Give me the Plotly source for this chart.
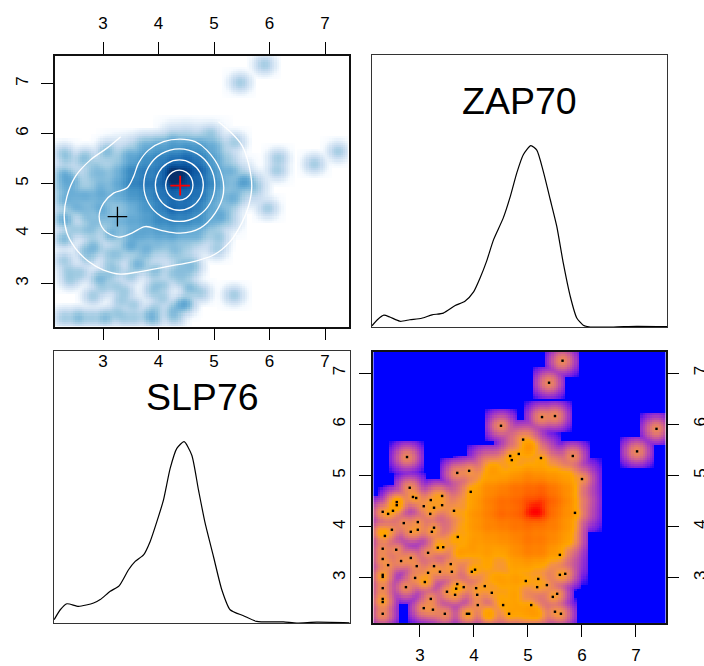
import numpy as np
import plotly.graph_objects as go

W, H = 704, 666
# outlying cytometry events (low density, drawn as dots)
zap70 = [5.64,5.39,5.26,5.50,4.50,7.38,7.02,2.76,4.91,4.67,4.70,4.83,5.24,5.83,6.00,3.69,3.91,2.81,3.94,2.87,2.93,3.41,3.20,2.57,2.57,3.07,3.26,3.41,2.31,2.41,2.50,3.63,3.19,5.87,2.70,2.96,3.26,2.48,2.96,2.83,3.22,2.35,3.70,2.31,2.56,3.33,3.43,3.15,5.59,2.31,2.83,2.65,2.41,2.94,3.26,3.57,4.02,3.96,3.15,3.37,3.59,2.31,2.31,2.91,5.59,5.69,4.96,5.19,3.09,3.69,4.20,2.74,3.81,4.04,3.67,5.17,5.35,2.31,3.50,4.33,4.06,3.65,5.54,5.46,3.20,2.31,2.31,4.07,4.54,5.06,3.07,3.24,5.50,5.61,2.31,3.46,3.87,3.91,4.65]
slp76 = [7.24,6.81,6.14,6.16,5.97,5.91,5.47,5.36,5.70,5.38,5.30,5.42,5.34,5.38,4.93,5.05,5.09,4.76,4.68,4.58,4.56,4.60,4.52,4.48,4.42,4.40,4.37,4.42,4.29,4.25,4.31,4.31,4.25,4.27,4.07,4.09,3.98,3.94,3.94,3.90,3.90,3.82,3.80,3.57,3.55,3.59,3.60,3.49,3.45,3.37,3.39,3.33,3.25,3.23,3.23,3.27,3.16,3.12,3.10,3.12,3.12,3.06,3.02,3.00,3.06,3.08,2.94,2.98,2.92,2.88,2.84,2.82,2.82,2.80,2.79,2.82,2.86,2.80,2.73,2.71,2.67,2.67,2.69,2.63,2.59,2.59,2.53,2.47,2.47,2.47,2.41,2.38,2.34,2.30,2.30,2.30,2.30,2.30,2.30]
# events hidden under the dense region (not drawn as dots)
hidden_zap = [2.32,2.28,4.27,4.30,4.25,5.04,5.06,5.02,5.00,4.36,4.34,5.10,4.90,5.20,4.70,4.50,4.55,4.75,4.80,4.40,3.75,3.60,3.95,2.62,2.55,3.30,3.35,3.10,4.85,5.00,5.15]
hidden_slp = [3.88,3.92,2.31,2.28,2.33,5.57,5.60,5.52,5.48,5.11,5.15,2.30,2.28,2.29,2.32,2.60,2.90,2.65,2.95,3.00,3.50,3.75,3.60,4.50,4.46,4.62,3.70,2.95,2.42,2.38,2.34]
# binned event counts of the dense core
core_zap = [3.5,3.75,4.0,4.25,4.5,4.75,5.0,5.25,5.5,5.75,6.0]
core_slp = [5.75,5.5,5.25,5.0,4.75,4.5,4.25,4.0,3.75,3.5,3.25,3.0,2.75,2.5,2.25]
core_counts = [
 [0,0,0,0,0,0.4,0.7,0,0,0,0],
 [0,0,0,0,0,0.5,1.0,0.5,0,0,0],
 [0,0,0,1.0,1.4,1.2,1.8,2.0,1.0,0.2,0],
 [0,0,0.7,2.4,2.6,4.0,6.5,5.0,4.0,3.0,0.2],
 [0,0.3,1.8,6.0,7.5,11,13,15,9.0,5.0,0.3],
 [0.4,1.2,3.0,7.5,12,13,20,24,13,5.5,0.6],
 [0.4,1.4,4.5,7.5,14,13,22,24,10,4.5,0.4],
 [0.3,1.8,4.0,7.0,7.5,10,11,9.0,8.0,4.0,0],
 [0.5,1.2,3.5,4.2,5.0,6.5,10,9.0,6.0,3.0,0],
 [0.2,2.6,2.6,3.5,2.4,5.0,8.0,7.5,3.0,0.5,0],
 [0.2,0.5,1.2,2.6,1.2,2.9,3.1,2.2,0.9,0.2,0],
 [0,0,0.2,1.4,2.2,2.4,1.2,0.7,0.4,0,0],
 [0,0,0,0.4,1.4,2.2,0.7,0.4,0,0,0],
 [0,0,0,0,1.0,2.2,1.0,0.4,0,0,0],
 [0,0,0,0.4,0.5,0.6,1.0,0.5,0,0,0],
]
core_peak = (5.13, 4.31, 18)
# density curves
zap_x = [2.11,2.21,2.33,2.44,2.63,2.81,3.03,3.22,3.43,3.65,3.83,3.99,4.11,4.23,4.36,4.54,4.67,4.79,4.91,5.05,5.16,5.28,5.41,5.53,5.65,5.78,5.90,6.02,6.15,6.58,7.01,7.57]
zap_d = [.004,.024,.039,.033,.019,.024,.029,.040,.046,.071,.085,.116,.162,.217,.289,.361,.432,.510,.570,.600,.585,.515,.421,.333,.212,.101,.030,.006,.000,.000,.002,.001]
slp_x = [2.12,2.23,2.35,2.56,2.83,2.95,3.13,3.29,3.46,3.58,3.73,3.85,3.97,4.09,4.21,4.33,4.46,4.60,4.72,4.84,4.99,5.14,5.29,5.53,5.77,6.25,6.49,6.85,7.44]
slp_d = [.013,.051,.074,.064,.077,.090,.122,.143,.205,.237,.262,.314,.390,.474,.595,.672,.698,.646,.512,.384,.256,.128,.051,.028,.006,.004,.000,.003,.001]
# gate contours, x = SLP76, y = ZAP70
c1_x = [3.32,3.07,2.77,2.50,2.35,2.30,2.35,2.50,2.74,3.01,3.31,3.67,4.15,4.63,4.99,5.29,5.50,5.62,5.68,5.62,5.50,5.29,5.08]
c1_y = [5.94,5.71,5.47,5.14,4.74,4.37,4.01,3.71,3.44,3.27,3.19,3.24,3.34,3.44,3.57,3.84,4.21,4.54,4.94,5.41,5.77,6.04,6.24]
c2_x = [4.39,4.09,3.82,3.64,3.55,3.43,3.19,3.01,2.93,3.02,3.28,3.52,3.76,4.03,4.39,4.75,5.02,5.17,5.11,4.87,4.66,4.39]
c2_y = [5.89,5.84,5.67,5.41,5.14,4.91,4.81,4.61,4.34,4.07,3.93,4.01,4.14,4.07,4.01,4.11,4.41,4.81,5.27,5.67,5.84,5.89]
c3_x = [5.015,4.929,4.695,4.375,4.055,3.821,3.735,3.821,4.055,4.375,4.695,4.929,5.015]
c3_y = [4.97,5.334,5.60,5.697,5.60,5.334,4.97,4.606,4.34,4.243,4.34,4.606,4.97]
c4_x = [4.807,4.749,4.591,4.375,4.159,4.001,3.943,4.001,4.159,4.375,4.591,4.749,4.807]
c4_y = [4.97,5.222,5.406,5.473,5.406,5.222,4.97,4.718,4.534,4.467,4.534,4.718,4.97]
c5_x = [4.621,4.588,4.498,4.375,4.252,4.162,4.129,4.162,4.252,4.375,4.498,4.588,4.621]
c5_y = [4.97,5.12,5.23,5.27,5.23,5.12,4.97,4.82,4.71,4.67,4.71,4.82,4.97]
center_black = (3.26, 4.34)
center_red = (4.39, 4.96)
tick_vals = [3, 4, 5, 6, 7]
tick_text = ["3", "4", "5", "6", "7"]
titles = ["ZAP70", "SLP76"]

# kernel density on a 128x128 grid (ZAP70 horizontal, SLP76 vertical)
gx = np.linspace(2.16, 7.53, 128)
gy = np.linspace(2.15, 7.39, 128)
BW, CUT = 0.09, 0.31
SIG = 0.11
dens = np.zeros((128, 128))
def add(px, py, w, bw, cut):
    kx = np.exp(-0.5 * ((gx - px) / bw) ** 2) * (np.abs(gx - px) <= cut)
    ky = np.exp(-0.5 * ((gy - py) / bw) ** 2) * (np.abs(gy - py) <= cut)
    return w * np.outer(ky, kx)
for a, b in zip(zap70 + hidden_zap, slp76 + hidden_slp):
    dens += add(a, b, 1.0, BW, CUT)
for j, s in enumerate(core_slp):
    for i, a in enumerate(core_zap):
        if core_counts[j][i] > 0:
            dens += add(a, s, core_counts[j][i] / 1.216, SIG, 0.36)
dens += add(core_peak[0], core_peak[1], core_peak[2], SIG, 0.36)
t = (dens / dens.max()) ** 0.25

# Lab-space ramp blue -> orange -> red
def lab2hex(L, a, b):
    fy = (L + 16) / 116; fx = fy + a / 500; fz = fy - b / 200
    finv = lambda f: f ** 3 if f > 6 / 29 else 3 * (6 / 29) ** 2 * (f - 4 / 29)
    X, Y, Z = 0.9505 * finv(fx), finv(fy), 1.089 * finv(fz)
    rgb = [3.2406 * X - 1.5372 * Y - 0.4986 * Z, -0.9689 * X + 1.8758 * Y + 0.0415 * Z, 0.0557 * X - 0.2040 * Y + 1.0570 * Z]
    out = []
    for c in rgb:
        c = min(max(c, 0), 1)
        c = 12.92 * c if c <= 0.0031308 else 1.055 * c ** (1 / 2.4) - 0.055
        out.append(round(c * 255))
    return "#%02X%02X%02X" % tuple(out)
LAB_BLUE, LAB_ORANGE, LAB_RED = (32.3, 79.2, -107.9), (74.9, 23.9, 78.9), (53.2, 80.1, 67.2)
fire_scale = []
for k in range(9):
    f = k / 8
    fire_scale.append([f / 2, lab2hex(*[p + f * (q - p) for p, q in zip(LAB_BLUE, LAB_ORANGE)])])
for k in range(1, 5):
    f = k / 4
    fire_scale.append([0.5 + f / 2, lab2hex(*[p + f * (q - p) for p, q in zip(LAB_ORANGE, LAB_RED)])])
blues = ["#FFFFFF","#F7FBFF","#DEEBF7","#C6DBEF","#9ECAE1","#6BAED6","#4292C6","#2171B5","#08519C","#08306B"]
blue_scale = [[i / 9, c] for i, c in enumerate(blues)]

fig = go.Figure()
fig.add_trace(go.Heatmap(x=gy, y=gx, z=t.T, colorscale=blue_scale, zmin=0, zmax=0.95, zsmooth=False,
                         showscale=False, xaxis="x", yaxis="y"))
for cx, cy in [(c1_x, c1_y), (c2_x, c2_y), (c3_x, c3_y), (c4_x, c4_y), (c5_x, c5_y)]:
    fig.add_trace(go.Scatter(x=cx, y=cy, mode="lines", line=dict(color="white", width=1.3, shape="spline", smoothing=1),
                             xaxis="x", yaxis="y", showlegend=False))
for (mx, my), col, lw in [(center_black, "black", 1.3), (center_red, "#FF0000", 1.8)]:
    fig.add_trace(go.Scatter(x=[mx], y=[my], mode="markers", xaxis="x", yaxis="y", showlegend=False,
                             marker=dict(symbol="cross-thin", size=14, line=dict(color=col, width=lw))))
fig.add_trace(go.Scatter(x=[None], y=[None], xaxis="x2", yaxis="y", showlegend=False))
fig.add_trace(go.Scatter(x=zap_x, y=zap_d, mode="lines", line=dict(color="black", width=1.2, shape="spline", smoothing=0.6),
                         xaxis="x3", yaxis="y3", showlegend=False))
fig.add_trace(go.Scatter(x=slp_x, y=slp_d, mode="lines", line=dict(color="black", width=1.2, shape="spline", smoothing=0.6),
                         xaxis="x4", yaxis="y4", showlegend=False))
fig.add_trace(go.Heatmap(x=gx, y=gy, z=t, colorscale=fire_scale, zmin=0, zmax=1, zsmooth=False,
                         showscale=False, xaxis="x5", yaxis="y5"))
fig.add_trace(go.Scatter(x=zap70, y=slp76, mode="markers", marker=dict(symbol="square", size=2.4, color="black"),
                         xaxis="x5", yaxis="y5", showlegend=False))
fig.add_trace(go.Scatter(x=[None], y=[None], xaxis="x5", yaxis="y6", showlegend=False))

def dx(a, b): return [a / W, b / W]
def dy(a, b): return [1 - b / H, 1 - a / H]
FONT = dict(family="Liberation Sans", size=17, color="black")
base = dict(automargin=False, showgrid=False, zeroline=False, showline=True, linecolor="#111", ticks="outside", ticklen=12,
            tickwidth=1, tickcolor="black", tickvals=tick_vals, ticktext=tick_text, tickfont=FONT)
plain = dict(automargin=False, showgrid=False, zeroline=False, showline=True, linecolor="#333", linewidth=1, mirror=True,
             showticklabels=False, ticks="")
TLX, TLY = [2.135, 7.432], [2.13, 7.554]
BRX, BRY = [2.13, 7.556], [2.12, 7.41]
fig.update_layout(
    template="none",
    width=W, height=H, margin=dict(l=0, r=0, t=0, b=0), paper_bgcolor="white", plot_bgcolor="white",
    showlegend=False,
    xaxis=dict(base, domain=dx(55, 349), range=TLX, side="top", anchor="y", mirror=True, linewidth=1.6, ticklabelstandoff=6),
    xaxis2=dict(base, domain=dx(55, 349), range=TLX, side="bottom", anchor="y", overlaying="x", showline=False, ticklabelstandoff=7),
    yaxis=dict(base, domain=dy(56, 327), range=TLY, side="left", anchor="x", mirror=True, linewidth=1.6, tickangle=-90, ticklabelstandoff=6),
    xaxis3=dict(plain, domain=dx(372, 667), range=[2.11, 7.57], anchor="y3"),
    yaxis3=dict(plain, domain=dy(55, 327), range=[0, 0.9], anchor="x3"),
    xaxis4=dict(plain, domain=dx(54, 350), range=[2.117, 7.45], anchor="y4"),
    yaxis4=dict(plain, domain=dy(351, 623), range=[0, 1.047], anchor="x4"),
    xaxis5=dict(base, domain=dx(373, 666), range=BRX, side="bottom", anchor="y5", mirror=True, linewidth=1.6, ticklabelstandoff=4),
    yaxis5=dict(base, domain=dy(352, 623), range=BRY, side="left", anchor="x5", mirror=True, linewidth=1.6, tickangle=-90, ticklabelstandoff=7),
    yaxis6=dict(base, domain=dy(352, 623), range=BRY, side="right", anchor="x5", overlaying="y5", showline=False, tickangle=-90, ticklabelstandoff=7),
    annotations=[
        dict(text=titles[0], x=519.5 / W, y=1 - 101 / H, xref="paper", yref="paper", xanchor="center", yanchor="middle", showarrow=False,
             font=dict(family="Liberation Sans", size=37.5, color="black")),
        dict(text=titles[1], x=202 / W, y=1 - 397 / H, xref="paper", yref="paper", xanchor="center", yanchor="middle", showarrow=False,
             font=dict(family="Liberation Sans", size=37.5, color="black")),
    ],
)
fig.write_html("out.html", config=dict(displayModeBar=False),
               post_script="document.body.style.margin='0';document.body.style.overflow='hidden';")
